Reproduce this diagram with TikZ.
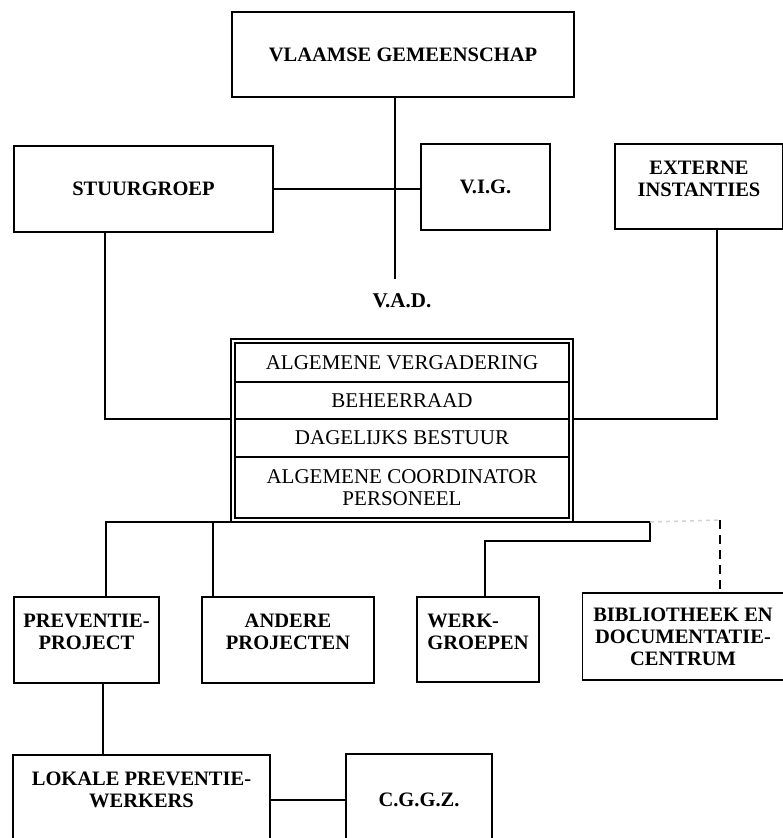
\documentclass[tikz,border=0pt]{standalone}
\usepackage{fontspec}
\setmainfont{Liberation Serif}
\usepackage{tikz}
\usetikzlibrary{backgrounds}

\begin{document}
\begin{tikzpicture}[x=1pt, y=-1pt,
  background rectangle/.style={fill=white}, show background rectangle, inner frame sep=0pt,
  orgbox/.style={draw=black, line width=1.5pt, inner sep=0pt, align=center,
    font=\fontsize{20.5}{22}\selectfont\bfseries},
  vadrow/.style={draw=black, line width=1.2pt, inner sep=0pt, outer sep=0pt, align=center,
    minimum width=334pt, font=\fontsize{21}{22}\selectfont},
  link/.style={draw=black, line width=1.5pt}]
\useasboundingbox (0,0) rectangle (783,838);
\clip (0,0) rectangle (783,838);

\begin{scope}[every node/.style={orgbox}]
  \node[minimum width=342pt, minimum height=85pt] (VG) at (403,54.5) {VLAAMSE GEMEENSCHAP};
  \node[minimum width=259pt, minimum height=86pt] (SG) at (143.5,189) {STUURGROEP};
  \node[minimum width=129pt, minimum height=86pt] (VIG) at (485.5,187) {V.I.G.};
  \node[minimum width=168pt, minimum height=85pt, text depth=16pt] (EXT) at (699,186.5) {EXTERNE\\INSTANTIES};
  \node[minimum width=145pt, minimum height=86pt, text depth=16pt] (PP) at (86.5,640) {PREVENTIE-\\PROJECT};
  \node[minimum width=172pt, minimum height=86pt, text depth=16pt] (AP) at (288,640) {ANDERE\\PROJECTEN};
  \node[minimum width=122pt, minimum height=85pt, text depth=16pt, align=left] (WG) at (478,639.5) {WERK-\\GROEPEN};
  \node[minimum width=201pt, minimum height=87pt] (BDC) at (683,636.5) {BIBLIOTHEEK EN\\DOCUMENTATIE-\\CENTRUM};
  \node[minimum width=257pt, minimum height=90pt, text depth=21pt] (LPW) at (141.5,800) {LOKALE PREVENTIE-\\WERKERS};
  \node[minimum width=146pt, minimum height=91pt] (CGGZ) at (419,799.5) {C.G.G.Z.};
\end{scope}

\node[font=\fontsize{21}{22}\selectfont\bfseries] (VADlabel) at (402,301) {V.A.D.};
\node[draw=black, line width=2.6pt, minimum width=342pt, minimum height=183pt, inner sep=0pt] (VAD) at (402,430.5) {};
\begin{scope}[every node/.style={vadrow}]
  \node[minimum height=39pt] (AV) at (402,362.5) {ALGEMENE VERGADERING};
  \node[minimum height=37pt] (BR) at (402,400.5) {BEHEERRAAD};
  \node[minimum height=38pt] (DB) at (402,438) {DAGELIJKS BESTUUR};
  \node[minimum height=61pt] (AC) at (402,487.5) {ALGEMENE COORDINATOR\\PERSONEEL};
\end{scope}

\coordinate (VGend) at (395,279);
\coordinate (SGdrop) at (105,419);
\coordinate (EXTdrop) at (717,419);
\coordinate (PPdrop) at (106,522);
\coordinate (APdrop) at (213,522);
\coordinate (WGbend) at (650,541);
\coordinate (WGdrop) at (485,541);
\coordinate (BDCdrop) at (720,520);
\coordinate (LPWdrop) at (103,720);

\draw[link] (VGend |- VG.south) -- (VGend);
\draw[link] (SG.east) -- (SG.east -| VIG.west);
\draw[link] (SGdrop |- SG.south) -- (SGdrop) -- (VAD.west |- SGdrop);
\draw[link] (EXTdrop |- EXT.south) -- (EXTdrop) -- (VAD.east |- EXTdrop);
\draw[link] (PPdrop |- PP.north) -- (PPdrop) -- (VAD.south west |- PPdrop);
\draw[link] (APdrop) -- (APdrop |- AP.north);
\draw[link] (VAD.south east |- PPdrop) -| (WGbend) -- (WGdrop) -- (WGdrop |- WG.north);
\draw[link, gray!35, dash pattern=on 4pt off 4pt] (WGbend |- PPdrop) -- (BDCdrop);
\draw[link, dash pattern=on 9pt off 6pt] (BDCdrop) -- (BDCdrop |- BDC.north);
\draw[link] (LPWdrop |- PP.south) -- (LPWdrop |- LPW.north);
\draw[link] (LPW.east) -- (LPW.east -| CGGZ.west);

\end{tikzpicture}
\end{document}
